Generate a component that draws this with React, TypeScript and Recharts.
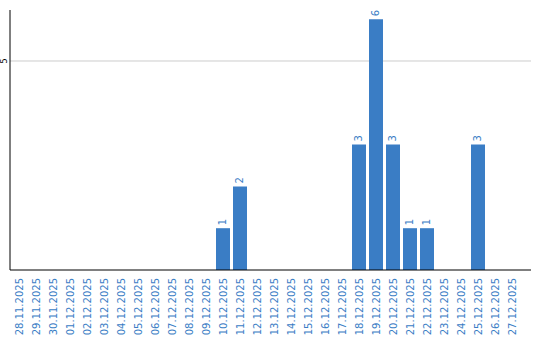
import { BarChart, Bar, XAxis, YAxis, CartesianGrid, LabelList } from "recharts";

const dates = [
  "28.11.2025", "29.11.2025", "30.11.2025", "01.12.2025", "02.12.2025",
  "03.12.2025", "04.12.2025", "05.12.2025", "06.12.2025", "07.12.2025",
  "08.12.2025", "09.12.2025", "10.12.2025", "11.12.2025", "12.12.2025",
  "13.12.2025", "14.12.2025", "15.12.2025", "16.12.2025", "17.12.2025",
  "18.12.2025", "19.12.2025", "20.12.2025", "21.12.2025", "22.12.2025",
  "23.12.2025", "24.12.2025", "25.12.2025", "26.12.2025", "27.12.2025",
];

const counts = [
  0, 0, 0, 0, 0, 0, 0, 0, 0, 0,
  0, 0, 1, 2, 0, 0, 0, 0, 0, 0,
  3, 6, 3, 1, 1, 0, 0, 3, 0, 0,
];

const yTicks = [5];

const BLUE = "#3a7dc5";

const data = dates.map((date, i) => ({ date, count: counts[i] }));

function DateTick({ x, y, payload }: any) {
  const tx = x + 4;
  return (
    <text
      x={tx}
      y={y}
      transform={`rotate(-90, ${tx}, ${y})`}
      textAnchor="end"
      fontSize={10}
      fontFamily="DejaVu Sans"
      fill={BLUE}
    >
      {payload.value}
    </text>
  );
}

function ValueTick({ y, payload }: any) {
  const tx = 7;
  return (
    <text
      x={tx}
      y={y}
      transform={`rotate(-90, ${tx}, ${y})`}
      textAnchor="middle"
      fontSize={8}
      fontFamily="DejaVu Sans"
      fill="#000"
    >
      {payload.value}
    </text>
  );
}

function BarValue({ x, y, width, value }: any) {
  if (!value) return null;
  const cx = x + width / 2 + 3.5;
  const cy = y - 3;
  return (
    <text
      x={cx}
      y={cy}
      transform={`rotate(-90, ${cx}, ${cy})`}
      textAnchor="start"
      fontSize={10}
      fontFamily="DejaVu Sans"
      fill={BLUE}
    >
      {value}
    </text>
  );
}

export default function App() {
  return (
    <div style={{ position: "absolute", left: 0, top: 0, background: "#fff" }}>
      <BarChart
        width={540}
        height={340}
        data={data}
        margin={{ top: 10, right: 9, bottom: 0, left: 0 }}
      >
        <CartesianGrid vertical={false} stroke="#cccccc" horizontalValues={yTicks} />
        <XAxis
          dataKey="date"
          interval={0}
          height={70}
          tickLine={false}
          axisLine={{ stroke: "#000" }}
          padding={{ left: 0, right: 11 }}
          tick={<DateTick />}
        />
        <YAxis
          width={10}
          domain={[0, 6.22]}
          ticks={yTicks}
          tickLine={false}
          axisLine={{ stroke: "#000" }}
          tick={<ValueTick />}
        />
        <Bar dataKey="count" fill={BLUE} barSize={14} isAnimationActive={false}>
          <LabelList dataKey="count" content={<BarValue />} />
        </Bar>
      </BarChart>
    </div>
  );
}
